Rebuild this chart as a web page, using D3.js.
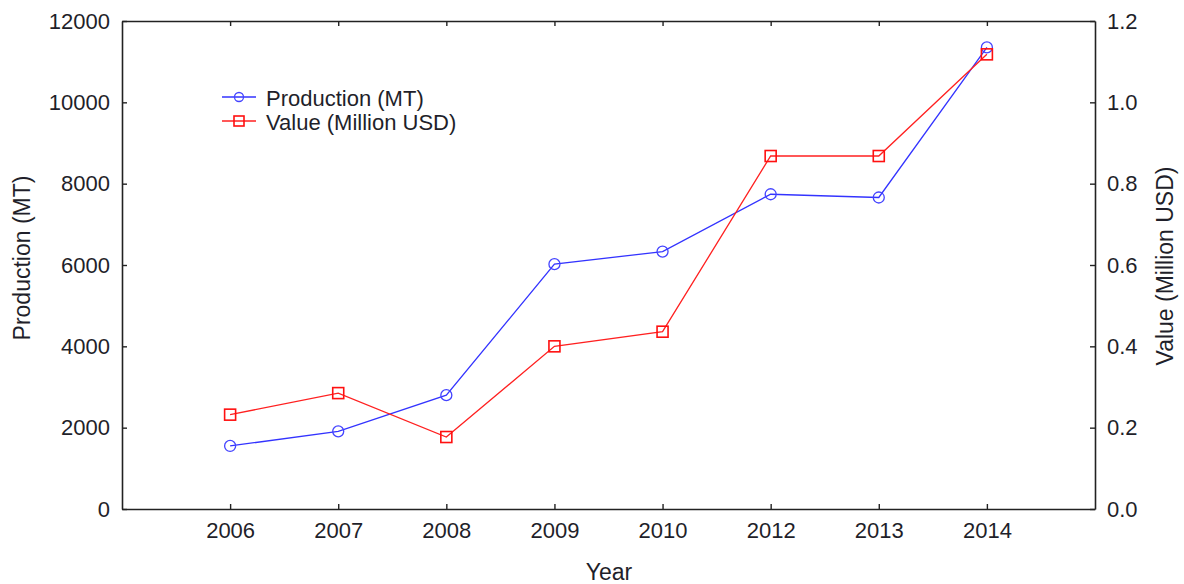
<!DOCTYPE html>
<html>
<head>
<meta charset="utf-8">
<script src="https://cdn.jsdelivr.net/npm/d3@7"></script>
<style>
  body { margin: 0; background: #fff; }
  text { font-family: "Liberation Sans", Arial, sans-serif; fill: #1f1f2a; }
</style>
</head>
<body>
<svg id="chart" width="1184" height="584"></svg>
<script>
// data
var years = ["2006", "2007", "2008", "2009", "2010", "2012", "2013", "2014"]
var production = [1550, 1910, 2800, 6020, 6330, 7740, 7660, 11350]
var value = [0.232, 0.285, 0.177, 0.40, 0.436, 0.868, 0.868, 1.118]
var leftTicks = [0, 2000, 4000, 6000, 8000, 10000, 12000]
var rightTicks = [0, 0.2, 0.4, 0.6, 0.8, 1.0, 1.2]

var margin = {left: 122, right: 89, top: 21, bottom: 75}
var w = 1184, h = 584
var svg = d3.select("#chart")

var x = d3.scalePoint().domain(years).range([margin.left, w - margin.right]).padding(1)
var yL = d3.scaleLinear().domain([0, 12000]).range([h - margin.bottom, margin.top])
var yR = d3.scaleLinear().domain([0, 1.2]).range([h - margin.bottom, margin.top])

// axes, ticks drawn inward
svg.append("g").attr("transform", "translate(0," + (h - margin.bottom) + ")")
  .call(d3.axisBottom(x).tickSizeInner(-5).tickSizeOuter(0).tickPadding(13))
svg.append("g").attr("transform", "translate(0," + margin.top + ")")
  .call(d3.axisTop(x).tickSizeInner(-5).tickSizeOuter(0).tickFormat(""))
svg.append("g").attr("transform", "translate(" + margin.left + ",0)")
  .call(d3.axisLeft(yL).tickValues(leftTicks).tickFormat(d3.format("d")).tickSizeInner(-5).tickSizeOuter(0).tickPadding(12))
svg.append("g").attr("transform", "translate(" + (w - margin.right) + ",0)")
  .call(d3.axisRight(yR).tickValues(rightTicks).tickFormat(d3.format(".1f")).tickSizeInner(-5).tickSizeOuter(0).tickPadding(12))

svg.selectAll(".domain").attr("stroke", "#222").attr("stroke-width", 1.6)
svg.selectAll(".tick line").attr("stroke", "#222").attr("stroke-width", 1.4)
svg.selectAll(".tick text").style("font-size", "22px").attr("fill", "#1f1f2a")
  .style("font-family", '"Liberation Sans", Arial, sans-serif')

// axis titles
svg.append("text").attr("x", 609).attr("y", 580).attr("text-anchor", "middle")
  .style("font-size", "23px").text("Year")
svg.append("text").attr("transform", "translate(30,258) rotate(-90)").attr("text-anchor", "middle")
  .style("font-size", "23px").text("Production (MT)")
svg.append("text").attr("transform", "translate(1173,266) rotate(-90)").attr("text-anchor", "middle")
  .style("font-size", "23px").text("Value (Million USD)")

// lines
var lineL = d3.line().x(function(d, i){ return x(years[i]) }).y(function(d){ return yL(d) })
var lineR = d3.line().x(function(d, i){ return x(years[i]) }).y(function(d){ return yR(d) })

svg.append("path").attr("d", lineL(production)).attr("fill", "none")
  .attr("stroke", "#3333ff").attr("stroke-width", 1.3)
svg.append("path").attr("d", lineR(value)).attr("fill", "none")
  .attr("stroke", "#ff2020").attr("stroke-width", 1.3)

svg.selectAll("circle.prod").data(production).enter().append("circle")
  .attr("cx", function(d, i){ return x(years[i]) })
  .attr("cy", function(d){ return yL(d) })
  .attr("r", 5.5).attr("fill", "none").attr("stroke", "#4444ff").attr("stroke-width", 1.3)

svg.selectAll("rect.val").data(value).enter().append("rect")
  .attr("x", function(d, i){ return x(years[i]) - 5.5 })
  .attr("y", function(d){ return yR(d) - 5.5 })
  .attr("width", 11).attr("height", 11)
  .attr("fill", "none").attr("stroke", "#ff1010").attr("stroke-width", 1.6)

// legend
var legend = svg.append("g").attr("transform", "translate(222,97)")
legend.append("line").attr("x1", 0).attr("x2", 34).attr("y1", 0).attr("y2", 0)
  .attr("stroke", "#3333ff").attr("stroke-width", 1.3)
legend.append("circle").attr("cx", 17).attr("cy", 0).attr("r", 4.5)
  .attr("fill", "none").attr("stroke", "#4444ff").attr("stroke-width", 1.3)
legend.append("text").attr("x", 44).attr("y", 9).style("font-size", "22px").text("Production (MT)")
legend.append("line").attr("x1", 0).attr("x2", 34).attr("y1", 24).attr("y2", 24)
  .attr("stroke", "#ff2020").attr("stroke-width", 1.3)
legend.append("rect").attr("x", 12).attr("y", 19).attr("width", 10).attr("height", 10)
  .attr("fill", "none").attr("stroke", "#ff1010").attr("stroke-width", 1.6)
legend.append("text").attr("x", 44).attr("y", 33).style("font-size", "22px").text("Value (Million USD)")
</script>
</body>
</html>
